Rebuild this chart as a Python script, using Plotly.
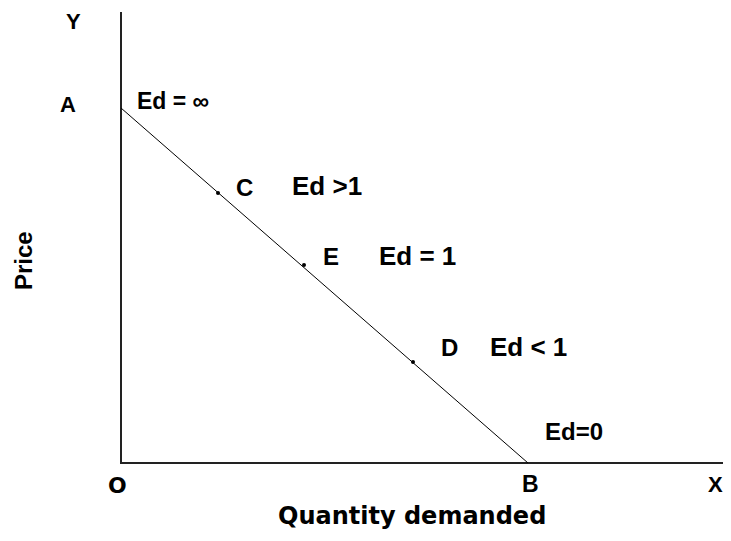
import plotly.graph_objects as go

# demand curve end points (A on price axis, B on quantity axis)
curve_q = [0, 407]
curve_p = [355, 0]

# marked points on the demand curve
point_names = ["C", "E", "D"]
point_q = [97, 183, 292]
point_p = [270, 198, 101]
elasticity_labels = ["Ed >1", "Ed = 1", "Ed < 1"]

x_axis_end = 602
y_axis_end = 451

# label offsets from each point (name, elasticity text)
name_offset = [(26, 6), (27, 9), (36, 15)]
el_offset = [(72, 7), (73, 9), (75, 15)]

fig = go.Figure()

# axes
fig.add_trace(go.Scatter(x=[0, 0, x_axis_end], y=[y_axis_end, 0, 0], mode="lines",
                         line=dict(color="#222", width=2), hoverinfo="skip"))

# demand line
fig.add_trace(go.Scatter(x=curve_q, y=curve_p, mode="lines",
                         line=dict(color="black", width=1), hoverinfo="skip"))

fig.add_trace(go.Scatter(x=point_q, y=point_p, mode="markers",
                         marker=dict(color="black", size=4), hoverinfo="skip"))

annotations = []


def label(x, y, text, size=24, anchor="center", family="Liberation Sans, Arial", angle=0):
    annotations.append(dict(x=x, y=y, text="<b>%s</b>" % text, showarrow=False,
                            xanchor=anchor, yanchor="middle", textangle=angle,
                            font=dict(family=family, size=size, color="black")))


label(-48, 442, "Y", 22)
label(-53, 359, "A", 22)
label(14, 362, "Ed = ∞", 23, "left")
for i, name in enumerate(point_names):
    q, p = point_q[i], point_p[i]
    label(q + name_offset[i][0], p + name_offset[i][1], name, 24)
    label(q + el_offset[i][0], p + el_offset[i][1], elasticity_labels[i], 26, "left")
label(422, 32, "Ed=0", 24, "left")
label(-98, 202, "Price", 24, angle=-90)
label(-4, -22, "O", 22, family="DejaVu Sans")
label(409, -21, "B", 23)
label(594, -21, "X", 22)
label(291, -53, "Quantity demanded", 24, family="DejaVu Sans")

# page body adds an 8px margin, so the figure is kept inside the window
fig.update_layout(
    width=715, height=525,
    margin=dict(l=0, r=0, t=0, b=0),
    showlegend=False,
    plot_bgcolor="white", paper_bgcolor="white",
    xaxis=dict(range=[-113, 602], visible=False, fixedrange=True),
    yaxis=dict(range=[-70, 455], visible=False, fixedrange=True),
    annotations=annotations,
)

fig.write_html("out.html")
